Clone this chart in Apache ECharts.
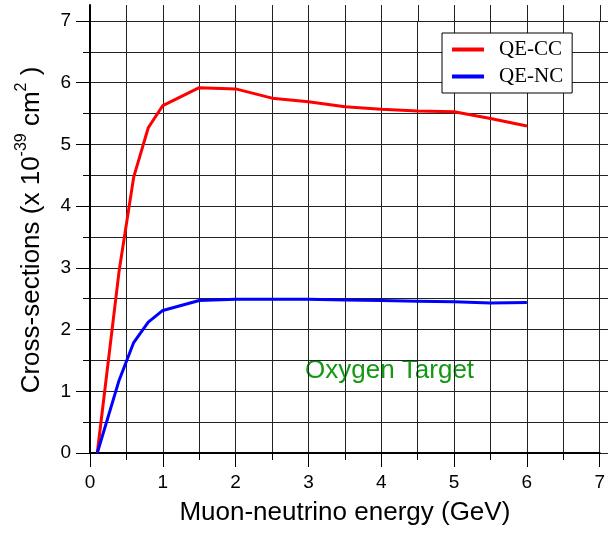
<!DOCTYPE html>
<html>
<head>
<meta charset="utf-8">
<script src="https://cdn.jsdelivr.net/npm/echarts@6/dist/echarts.min.js"></script>
<style>html,body{margin:0;padding:0;background:#fff}#c{width:608px;height:534px}</style>
</head>
<body>
<div id="c"></div>
<script>
const energies = [0.1, 0.4, 0.6, 0.8, 1.0, 1.5, 2.0, 2.5, 3.0, 3.5, 4.0, 4.5, 5.0, 5.5, 6.0];
const qeCC = [0, 2.95, 4.47, 5.27, 5.63, 5.92, 5.90, 5.75, 5.69, 5.61, 5.57, 5.54, 5.53, 5.42, 5.30];
const qeNC = [0, 1.18, 1.79, 2.12, 2.31, 2.47, 2.49, 2.49, 2.49, 2.48, 2.47, 2.46, 2.45, 2.43, 2.44];
const seriesNames = ['QE-CC', 'QE-NC'];
const xTitle = 'Muon-neutrino energy (GeV)';
const annotation = 'Oxygen Target';

const SANS = '"Liberation Sans", Arial, sans-serif';
const SERIF = '"Liberation Serif", "Times New Roman", serif';
const gridLine = { color: '#222', width: 1 };

const chart = echarts.init(document.getElementById('c'), null, { renderer: 'canvas' });
chart.setOption({
  backgroundColor: '#fff',
  animation: false,
  grid: [
    { left: 90, right: 8, top: 21, bottom: 81, containLabel: false },
    { left: 90, right: 8, top: 5, height: 16, containLabel: false },
    { left: 600, right: 0, top: 21, bottom: 81, containLabel: false }
  ],
  xAxis: [
    {
      gridIndex: 0, type: 'value', min: 0, max: 7, interval: 1,
      axisLine: { show: true, onZero: false, lineStyle: { color: '#000', width: 2 } },
      axisTick: { show: true, length: 14, lineStyle: { color: '#000', width: 1 } },
      minorTick: { show: true, splitNumber: 2, length: 7, lineStyle: { color: '#000', width: 1 } },
      splitLine: { show: true, lineStyle: gridLine },
      minorSplitLine: { show: true, lineStyle: gridLine },
      axisLabel: { fontSize: 19, color: '#000', fontFamily: SANS, margin: 20 },
      name: xTitle, nameLocation: 'middle', nameGap: 47,
      nameTextStyle: { fontSize: 26, color: '#000', fontFamily: SANS }
    },
    {
      gridIndex: 1, type: 'value', min: 0, max: 7, interval: 1,
      axisLine: { show: false }, axisTick: { show: false }, axisLabel: { show: false },
      minorTick: { show: false, splitNumber: 2 },
      splitLine: { show: true, lineStyle: gridLine },
      minorSplitLine: { show: true, lineStyle: gridLine }
    },
    { gridIndex: 2, type: 'value', min: 0, max: 1, show: false }
  ],
  yAxis: [
    {
      gridIndex: 0, type: 'value', min: 0, max: 7, interval: 1,
      axisLine: { show: true, onZero: false, lineStyle: { color: '#000', width: 2 } },
      axisTick: { show: true, length: 14, lineStyle: { color: '#000', width: 1 } },
      minorTick: { show: true, splitNumber: 2, length: 7, lineStyle: { color: '#000', width: 1 } },
      splitLine: { show: true, lineStyle: gridLine },
      minorSplitLine: { show: true, lineStyle: gridLine },
      axisLabel: { fontSize: 19, color: '#000', fontFamily: SANS, margin: 19 },
      name: 'Cross-sections (x 10{sup|-39} cm{sup|2} )', nameLocation: 'middle', nameGap: 36,
      nameTextStyle: {
        fontSize: 26, color: '#000', fontFamily: SANS, lineHeight: 36, padding: [0, 0, 0, 14],
        rich: { sup: { fontSize: 16, fontFamily: SANS, color: '#000', lineHeight: 16, verticalAlign: 'top' } }
      }
    },
    {
      gridIndex: 1, type: 'value', min: 0, max: 1,
      axisLine: { show: true, lineStyle: { color: '#000', width: 2 } },
      axisTick: { show: false }, axisLabel: { show: false }, splitLine: { show: false }
    },
    {
      gridIndex: 2, type: 'value', min: 0, max: 7, interval: 1,
      axisLine: { show: false }, axisTick: { show: false }, axisLabel: { show: false },
      minorTick: { show: false, splitNumber: 2 },
      splitLine: { show: true, lineStyle: gridLine },
      minorSplitLine: { show: true, lineStyle: gridLine }
    }
  ],
  legend: {
    orient: 'vertical', left: 442, top: 33,
    data: seriesNames,
    icon: 'rect', itemWidth: 32, itemHeight: 4, itemGap: 6,
    padding: [6, 9, 6, 10],
    backgroundColor: '#fff', borderColor: '#000', borderWidth: 1,
    textStyle: { fontSize: 21, fontFamily: SERIF, color: '#000', padding: [0, 0, 0, 10] }
  },
  graphic: [
    { type: 'text', left: 305, top: 358, style: { text: annotation, fontSize: 26, fontFamily: SANS, fill: '#119911' } }
  ],
  series: [
    {
      name: seriesNames[0], type: 'line', xAxisIndex: 0, yAxisIndex: 0,
      data: energies.map((e, i) => [e, qeCC[i]]),
      showSymbol: false, symbol: 'none', lineStyle: { color: '#ff0000', width: 3 }, itemStyle: { color: '#ff0000' }, z: 5
    },
    {
      name: seriesNames[1], type: 'line', xAxisIndex: 0, yAxisIndex: 0,
      data: energies.map((e, i) => [e, qeNC[i]]),
      showSymbol: false, symbol: 'none', lineStyle: { color: '#0000ff', width: 3 }, itemStyle: { color: '#0000ff' }, z: 5
    }
  ]
});
</script>
</body>
</html>
